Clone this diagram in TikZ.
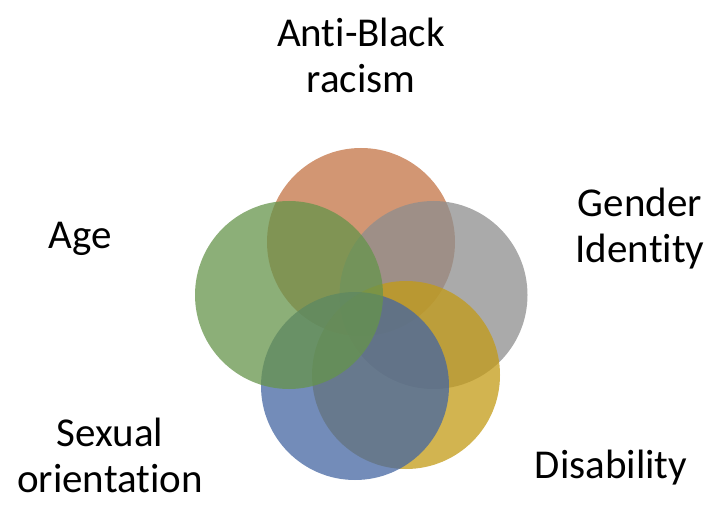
\documentclass[tikz,border=0pt]{standalone}
\usepackage{fontspec}
\setmainfont{Carlito}[Ligatures=NoCommon]
\definecolor{corange}{RGB}{195,115,68}
\definecolor{cgray}{RGB}{142,142,142}
\definecolor{cgold}{RGB}{195,155,22}
\definecolor{cblue}{RGB}{68,102,162}
\definecolor{cgreen}{RGB}{102,148,75}
\tikzset{
  venn/.style={circle, minimum size=188pt, inner sep=0pt, fill opacity=0.75},
  lbl/.style={anchor=base, inner sep=0pt, font=\fontsize{41}{46}\selectfont}
}
\begin{document}
\begin{tikzpicture}[x=1pt,y=1pt]
\useasboundingbox (0,0) rectangle (712,504);
\node[venn, fill=corange] (orange) at (361,262) {};
\node[venn, fill=cgray] (gray) at (433.5,209) {};
\node[venn, fill=cgold] (gold) at (406,129) {};
\node[venn, fill=cblue] (blue) at (355,118) {};
\node[venn, fill=cgreen] (green) at (289,209) {};
\node[lbl] (race) at (361,457) {\begin{tabular}[t]{@{}c@{}}Anti-Black\\racism\end{tabular}};
\node[lbl] (gender) at (640,287) {\begin{tabular}[t]{@{}c@{}}Gender\\Identity\end{tabular}};
\node[lbl] (age) at (80,255) {Age};
\node[lbl, anchor=south, align=center] (sexual) at (110,11) {Sexual\\orientation};
\node[lbl] (disab) at (611,26) {Disability};
\end{tikzpicture}
\end{document}
